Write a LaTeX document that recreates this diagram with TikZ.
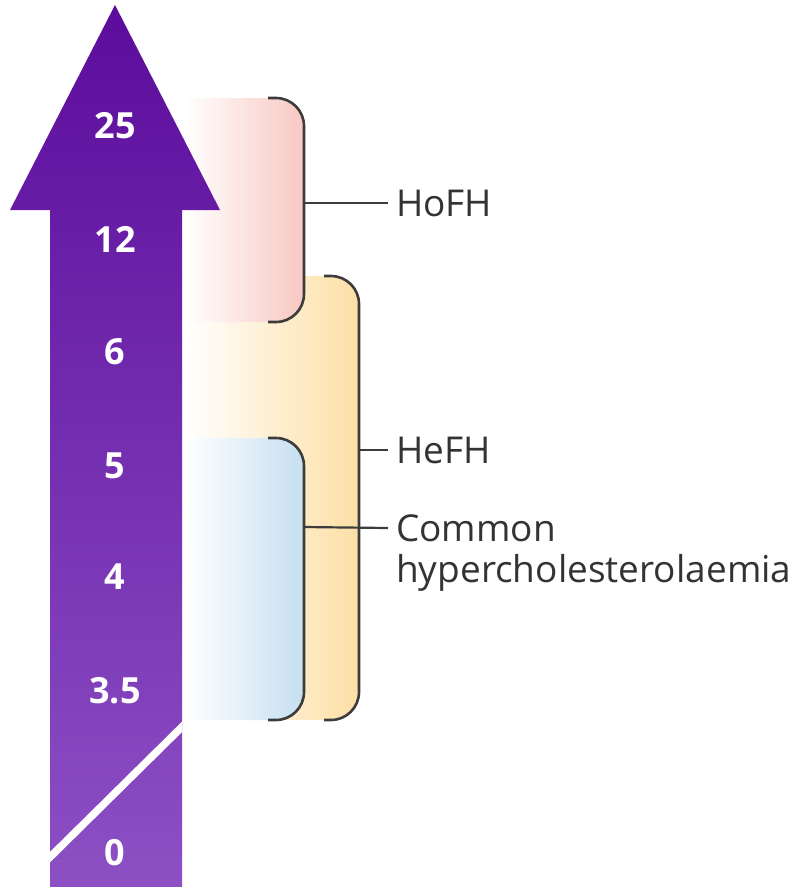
\documentclass[tikz,border=0pt]{standalone}
\usepackage{fontspec}
\setmainfont{Open Sans}
\begin{document}
\begin{tikzpicture}[x=1pt,y=-1pt,
  num/.style={text=white,font=\fontsize{36}{40}\selectfont\bfseries,inner sep=0pt},
  lab/.style={text=txtgray,font=\fontsize{37}{44}\selectfont,inner ysep=0pt,inner xsep=8pt,anchor=west},
  brk/.style={draw=brgray,line width=2.6pt,rounded corners=28pt},
  tick/.style={draw=brgray,line width=2.2pt}]
\definecolor{purtop}{HTML}{5C0C9C}
\definecolor{purbot}{HTML}{8C50C4}
\definecolor{pinkc}{HTML}{F8C8C2}
\definecolor{orangec}{HTML}{FDDFA6}
\definecolor{bluec}{HTML}{C6DFF0}
\definecolor{brgray}{HTML}{3C3C3C}
\definecolor{txtgray}{HTML}{333333}
\useasboundingbox (0,0) rectangle (800,887);
% regions
\shade[left color=white,right color=orangec,rounded corners=28pt]
  (185,276) -- (359,276) -- (359,720) -- (185,720);
\shade[left color=white,right color=pinkc,rounded corners=28pt]
  (185,98) -- (304,98) -- (304,322) -- (185,322);
\shade[left color=white,right color=bluec,rounded corners=28pt]
  (185,438) -- (304,438) -- (304,720) -- (185,720);
% arrow
\shade[top color=purtop,bottom color=purbot]
  (50,887) -- (50,210) -- (10,210) -- (115,5) -- (220,210) -- (182,210) -- (182,887) -- cycle;
\begin{scope}
  \clip (50,887) -- (50,210) -- (182,210) -- (182,887) -- cycle;
  \draw[white,line width=7.5pt] (38,869) -- (194,715);
\end{scope}
% brackets
\draw[brk] (268,98) -- (304,98) -- (304,322) -- (268,322);
\draw[brk] (324,276) -- (359,276) -- (359,720) -- (324,720);
\draw[brk] (268,438) -- (304,438) -- (304,720) -- (268,720);
\coordinate (hobr) at (304,203);
\coordinate (hebr) at (359,450);
\coordinate (cobr) at (304,527);
% labels
\node[lab] (hofh) at (388,203) {HoFH};
\node[lab] (hefh) at (388,450) {HeFH};
\node[lab] (common) at (388,528) {Common};
\node[lab,anchor=base west] (hyper) at (388,582) {hypercholesterolaemia};
\draw[tick] (hobr) -- (hofh.west);
\draw[tick] (hebr) -- (hefh.west);
\draw[tick] (cobr) -- (common.west);
% numbers
\node[num] (n25) at (115,126) {25};
\node[num] (n12) at (115,239) {12};
\node[num] (n6) at (115,352) {6};
\node[num] (n5) at (115,466) {5};
\node[num] (n4) at (115,577) {4};
\node[num] (n35) at (115,691) {3.5};
\node[num] (n0) at (115,853) {0};
\end{tikzpicture}
\end{document}
